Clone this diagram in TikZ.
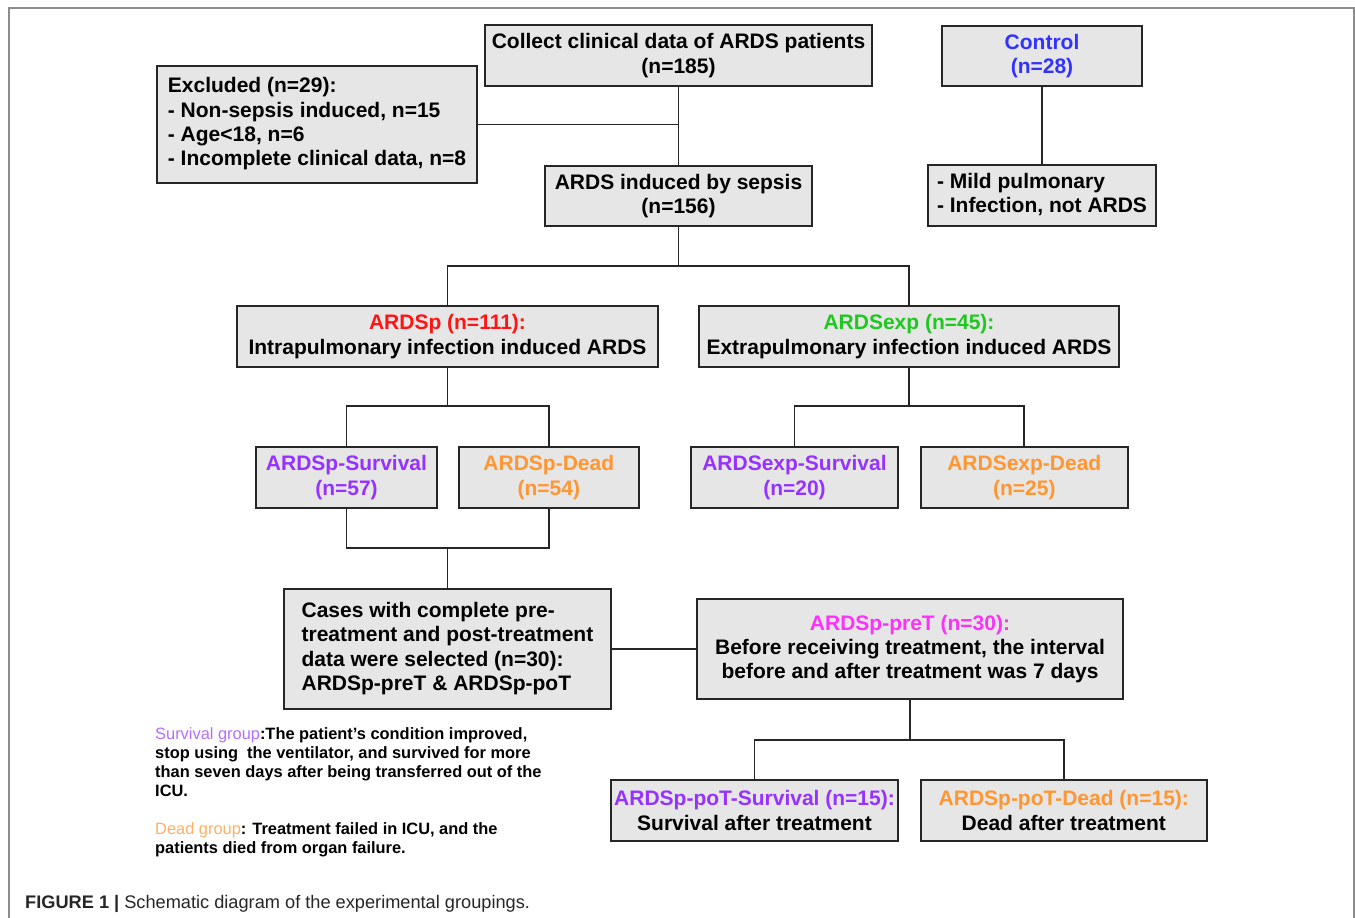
\documentclass[tikz,border=0pt]{standalone}
\usepackage{fontspec}
\setmainfont{Liberation Sans}
\usetikzlibrary{positioning}
\definecolor{GrisCaja}{RGB}{230,230,230}
\definecolor{GrisMarco}{RGB}{140,140,140}
\definecolor{AzulCtrl}{RGB}{50,50,255}
\definecolor{RojoP}{RGB}{255,20,20}
\definecolor{VerdeExp}{RGB}{30,200,30}
\definecolor{MoradoSup}{RGB}{150,50,255}
\definecolor{NaranjaMuerte}{RGB}{255,150,50}
\definecolor{MagentaPre}{RGB}{250,50,250}
\definecolor{MoradoClaro}{RGB}{180,110,255}
\definecolor{NaranjaClaro}{RGB}{255,175,100}

\begin{document}
\begin{tikzpicture}[x=1pt, y=-1pt,
    caja/.style={draw=black!85, line width=1.8pt, fill=GrisCaja, align=center,
      inner sep=0pt, font=\bfseries\fontsize{21}{24.3}\selectfont},
    linea/.style={draw=black!85, line width=1.8pt}
  ]
    \useasboundingbox (0,0) rectangle (1355,918);
    \draw[GrisMarco, line width=1.2pt] (9,918) -- (9,8) -- (1354,8) -- (1354,918);

    % top part
    \node[caja, minimum width=387, minimum height=61] (collect) at (678.5,55.5)
      {Collect clinical data of ARDS patients\\(n=185)};
    \node[caja, minimum width=320, minimum height=117] (excl) at (317,124.5)
      {\begin{tabular}{@{}l@{}}Excluded (n=29):\\- Non-sepsis induced, n=15\\- Age<18, n=6\\- Incomplete clinical data, n=8\end{tabular}};
    \node[caja, minimum width=267, minimum height=60, below=78pt of collect] (sepsis)
      {ARDS induced by sepsis\\(n=156)};
    \node[caja, minimum width=200, minimum height=60] (control) at (1042,56)
      {\color{AzulCtrl}Control\\\color{AzulCtrl}(n=28)};
    \node[caja, minimum width=228, minimum height=61] (mild) at (1042,195.5)
      {\begin{tabular}{@{}l@{}}- Mild pulmonary\\- Infection, not ARDS\end{tabular}};

    % ARDSp / ARDSexp
    \node[caja, minimum width=421, minimum height=61] (ardsp) at (447.5,336.5)
      {{\color{RojoP}ARDSp (n=111):}\\Intrapulmonary infection induced ARDS};
    \node[caja, minimum width=420, minimum height=61] (ardsexp) at (909,336.5)
      {{\color{VerdeExp}ARDSexp (n=45):}\\Extrapulmonary infection induced ARDS};

    \node[caja, minimum width=181, minimum height=61] (psurv) at (346.5,477.5)
      {\color{MoradoSup}ARDSp-Survival\\\color{MoradoSup}(n=57)};
    \node[caja, minimum width=180, minimum height=61, right=20pt of psurv] (pdead)
      {\color{NaranjaMuerte}ARDSp-Dead\\\color{NaranjaMuerte}(n=54)};
    \node[caja, minimum width=207, minimum height=61] (esurv) at (794.5,477.5)
      {\color{MoradoSup}ARDSexp-Survival\\\color{MoradoSup}(n=20)};
    \node[caja, minimum width=207, minimum height=61, right=21pt of esurv] (edead)
      {\color{NaranjaMuerte}ARDSexp-Dead\\\color{NaranjaMuerte}(n=25)};

    % paired cases
    \node[caja, minimum width=327, minimum height=120] (cases) at (447.5,649)
      {\begin{tabular}{@{}l@{}}Cases with complete pre-\\treatment and post-treatment\\data were selected (n=30):\\ARDSp-preT \& ARDSp-poT\end{tabular}};
    \node[caja, minimum width=426, minimum height=100] (pret) at (910,649)
      {{\color{MagentaPre}ARDSp-preT (n=30):}\\Before receiving treatment, the interval\\before and after treatment was 7 days};
    \node[caja, minimum width=287, minimum height=61] (posurv) at (754.5,810.5)
      {{\color{MoradoSup}ARDSp-poT-Survival (n=15):}\\Survival after treatment};
    \node[caja, minimum width=286, minimum height=61, right=21pt of posurv] (podead)
      {{\color{NaranjaMuerte}ARDSp-poT-Dead (n=15):}\\Dead after treatment};

    % connectors
    \coordinate (r1) at (678.5,266);
    \coordinate (r2) at (447.5,406);
    \coordinate (r3) at (909,406);
    \coordinate (r4) at (447.5,548);
    \coordinate (r5) at (910,740);
    \draw[linea] (collect) -- (sepsis);
    \draw[linea] (excl) -- (excl -| collect);
    \draw[linea] (control) -- (mild);
    \draw[linea] (sepsis) -- (r1);
    \draw[linea] (ardsp) |- (r1) -| (ardsexp);
    \draw[linea] (ardsp) -- (r2);
    \draw[linea] (psurv) |- (r2) -| (pdead);
    \draw[linea] (ardsexp) -- (r3);
    \draw[linea] (esurv) |- (r3) -| (edead);
    \draw[linea] (psurv) |- (r4) -| (pdead);
    \draw[linea] (r4) -- (cases);
    \draw[linea] (cases) -- (pret);
    \draw[linea] (pret) -- (r5);
    \draw[linea] (posurv) |- (r5) -| (podead);

    % legend and caption
    \node[anchor=north west, align=left, inner sep=0pt,
      font=\bfseries\fontsize{16.4}{19}\selectfont] (leyenda) at (155,727)
      {{\mdseries\color{MoradoClaro}Survival group}:The patient’s condition improved,\\
       stop using\ \ the ventilator, and survived for more\\
       than seven days after being transferred out of the\\
       ICU.\\[19pt]
       {\mdseries\color{NaranjaClaro}Dead group}: Treatment failed in ICU, and the\\
       patients died from organ failure.};
    \node[anchor=base west, inner sep=0pt, text=black!85,
      font=\fontsize{18.2}{20}\selectfont] (pie) at (25,908)
      {\textbf{FIGURE 1 |} Schematic diagram of the experimental groupings.};
  \end{tikzpicture}
\end{document}
